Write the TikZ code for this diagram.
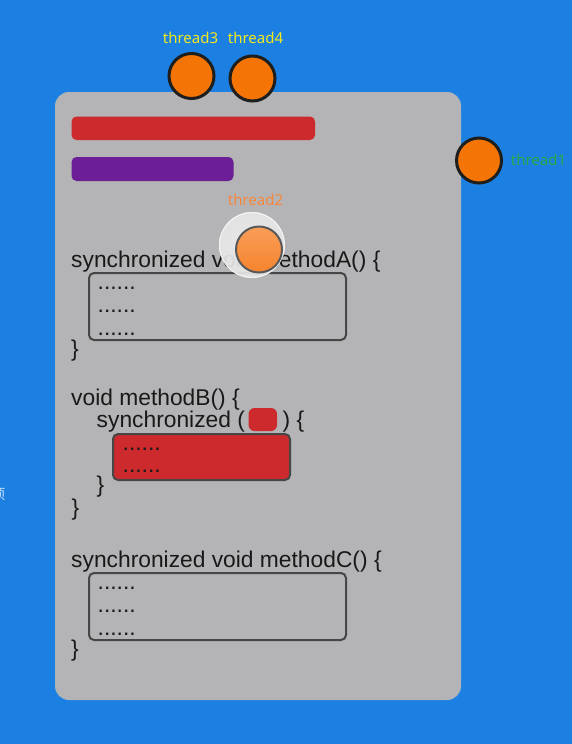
\documentclass[tikz,border=0pt]{standalone}
\usepackage{fontspec}
\setmainfont{Liberation Sans}
\newfontfamily\lblfont{Noto Sans}
\newfontfamily\cjkfont{Noto Sans CJK SC}
\usetikzlibrary{shadings}
\definecolor{bgblue}{RGB}{28,128,226}
\definecolor{cardgray}{RGB}{180,180,182}
\definecolor{barred}{RGB}{204,42,44}
\definecolor{barpurple}{RGB}{108,30,150}
\definecolor{thorange}{RGB}{244,117,6}
\definecolor{thborder}{RGB}{30,30,30}
\definecolor{lblyellow}{RGB}{242,232,30}
\definecolor{lblgreen}{RGB}{40,170,70}
\definecolor{lblorange}{RGB}{247,135,60}
\definecolor{codeink}{RGB}{25,25,25}
\definecolor{boxline}{RGB}{70,70,70}
\definecolor{lightorange}{RGB}{249,158,88}
\definecolor{midorange}{RGB}{246,132,46}
\tikzset{
  codetxt/.style={anchor=base west, inner sep=0pt, font=\fontsize{22.8}{26}\selectfont, text=codeink},
  codebox/.style={draw=boxline, line width=2pt, rounded corners=5pt},
  thread/.style={circle, draw=thborder, line width=3pt, fill=thorange, minimum size=45pt, inner sep=0pt},
  thlabel/.style={inner sep=0pt, font=\lblfont\fontsize{15}{18}\selectfont},
  bar/.style={rounded corners=5pt}
}
\begin{document}
\begin{tikzpicture}[x=1pt,y=-1pt]
\useasboundingbox (0,0) rectangle (572,744);
\fill[bgblue] (0,0) rectangle (572,744);
\node[anchor=east, inner sep=0pt, text=white!75!bgblue, font=\cjkfont\fontsize{14}{16}\selectfont] (cut) at (5.5,494) {项};
% card
\fill[cardgray, rounded corners=14pt] (55,92) rectangle (461,700);
% bars
\fill[barred, bar] (71.5,116.5) rectangle (315,140);
\fill[barpurple, bar] (71.5,157) rectangle (233.5,181);
% method A
\node[codetxt] (ma) at (71,267) {synchronized void methodA() \{};
\draw[codebox] (89,273) rectangle (346,340);
\node[codetxt] (ad1) at (97.5,289) {......};
\node[codetxt] (ad2) at (97.5,312) {......};
\node[codetxt] (ad3) at (97.5,335) {......};
\node[codetxt] (ae) at (71,356) {\}};
% method B
\node[codetxt] (mb) at (71,405) {void methodB() \{};
\node[codetxt] (sb) at (96.5,427) {synchronized (};
\fill[barred, rounded corners=6pt] (248.5,408) rectangle (277,431);
\node[codetxt] (sbe) at (282.5,427) {) \{};
\draw[boxline, line width=2pt, fill=barred, rounded corners=5pt] (113,434) rectangle (290,480);
\node[codetxt] (bd1) at (122.5,450) {......};
\node[codetxt] (bd2) at (122.5,472) {......};
\node[codetxt] (be1) at (96.5,492) {\}};
\node[codetxt] (be2) at (71.5,515) {\}};
% method C
\node[codetxt] (mc) at (71,567) {synchronized void methodC() \{};
\draw[codebox] (89,573) rectangle (346,640);
\node[codetxt] (cd1) at (97.5,589) {......};
\node[codetxt] (cd2) at (97.5,612) {......};
\node[codetxt] (cd3) at (97.5,635) {......};
\node[codetxt] (ce) at (71,656) {\}};
% threads
\node[thread] (t3) at (191.5,76) {};
\node[thread] (t4) at (252.5,78.5) {};
\node[thread] (t1) at (479,160.5) {};
\node[thlabel, text=lblyellow] (l3) at (190.5,38) {thread3};
\node[thlabel, text=lblyellow] (l4) at (255.5,38) {thread4};
\node[thlabel, text=lblgreen] (l1) at (538.5,160) {thread1};
\node[thlabel, text=lblorange] (l2) at (255.5,200) {thread2};
% thread2 halo and ball
\shade[inner color=white!88!gray, outer color=white!80!gray, opacity=0.92] (252,245) circle (33);
\draw[white!95!gray, line width=1.2pt, opacity=0.7] (252,245) circle (32.4);
\node[circle, draw=boxline!90, line width=2pt, top color=lightorange, bottom color=midorange, minimum size=46pt, inner sep=0pt] (t2) at (259,249.5) {};
\end{tikzpicture}
\end{document}
